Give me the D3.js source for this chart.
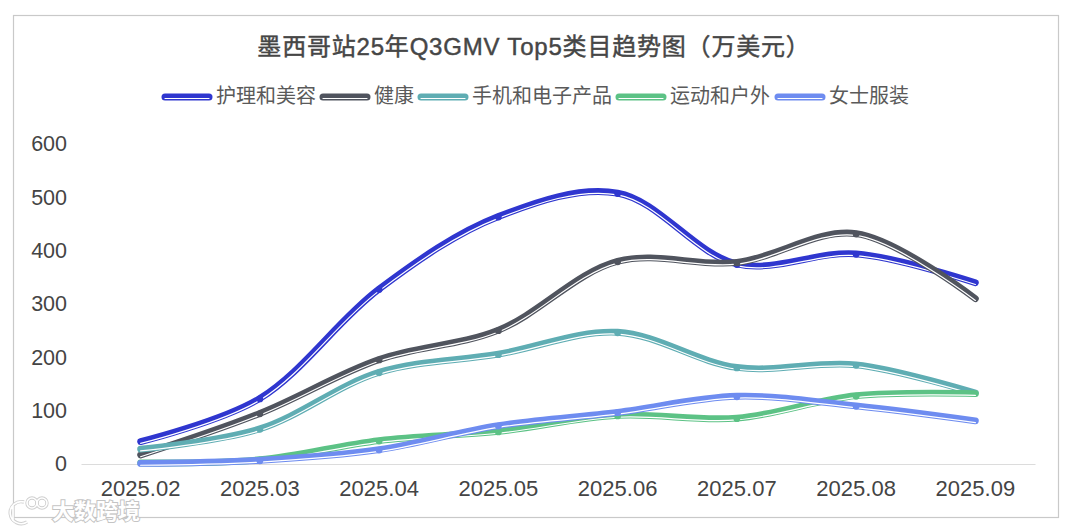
<!DOCTYPE html>
<html>
<head>
<meta charset="utf-8">
<script src="https://cdn.jsdelivr.net/npm/d3@7"></script>
<style>
  html, body { margin: 0; padding: 0; background: #fff; }
  svg { display: block; }
  text { font-family: "Liberation Sans", "Noto Sans CJK SC", sans-serif; }
</style>
</head>
<body>
<div class="chart"></div>
<script>
const months = ["2025.02", "2025.03", "2025.04", "2025.05", "2025.06", "2025.07", "2025.08", "2025.09"];
const names = ["护理和美容", "健康", "手机和电子产品", "运动和户外", "女士服装"];
const colors = ["#2f36cf", "#50545e", "#5fadb3", "#5cc285", "#6e8cf0"];
const beauty = [42, 123, 328, 464, 508, 375, 394, 340];
const health = [17, 95, 196, 251, 380, 378, 432, 310];
const phones = [28, 66, 172, 206, 247, 181, 186, 133];
const sports = [2, 8, 44, 61, 91, 86, 128, 132];
const women = [1, 7, 27, 72, 97, 127, 109, 81];
const seriesValues = [beauty, health, phones, sports, women];
const yTicks = [0, 100, 200, 300, 400, 500, 600];
const legendX = [162, 320, 418, 616, 775];

const width = 1080,
  height = 531;

const svg = d3
  .select(".chart")
  .append("svg")
  .attr("width", width)
  .attr("height", height);

svg
  .append("rect")
  .attr("x", 13.5)
  .attr("y", 15.5)
  .attr("width", 1045)
  .attr("height", 502)
  .attr("fill", "#fff")
  .attr("stroke", "#c9c9c9")
  .attr("stroke-width", 1.2);

svg
  .append("text")
  .attr("x", 534)
  .attr("y", 55)
  .attr("text-anchor", "middle")
  .attr("font-size", 24)
  .attr("letter-spacing", 0.8)
  .attr("fill", "#464646")
  .attr("stroke", "#464646")
  .attr("stroke-width", 0.45)
  .text("墨西哥站25年Q3GMV Top5类目趋势图（万美元）");

const xScale = d3.scaleBand().domain(months).range([81, 1035]);
const yScale = d3.scaleLinear().domain([0, 600]).range([464, 144]);
const xPos = (m) => xScale(m) + xScale.bandwidth() / 2;

const xAxis = d3.axisBottom(xScale).tickSize(0).tickPadding(16);
const yAxis = d3.axisLeft(yScale).tickValues(yTicks).tickSize(0).tickPadding(14);

const gx = svg.append("g").attr("transform", "translate(0, 464)").call(xAxis);
gx.select(".domain").attr("stroke", "#dcdcdc").attr("stroke-width", 1.2);
gx.selectAll("text").attr("font-size", 22).attr("fill", "#444").style("font-family", "'Liberation Sans'");

const gy = svg.append("g").attr("transform", "translate(81, 0)").call(yAxis);
gy.select(".domain").remove();
gy.selectAll("text").attr("font-size", 21.5).attr("fill", "#444").style("font-family", "'Liberation Sans'");

const line = d3
  .line()
  .x((d, i) => xPos(months[i]))
  .y((d) => yScale(d))
  .curve(d3.curveCatmullRom.alpha(0.5));

seriesValues.forEach((values, s) => {
  const g = svg.append("g");
  g.append("path")
    .attr("d", line(values))
    .attr("fill", "none")
    .attr("stroke", colors[s])
    .attr("stroke-width", 6.8)
    .attr("stroke-linecap", "round");
  // thin light line running along the lower edge of the thick stroke
  g.append("path")
    .attr("d", line(values))
    .attr("fill", "none")
    .attr("stroke", "#fff")
    .attr("stroke-width", 1.2)
    .attr("stroke-linecap", "round")
    .attr("transform", "translate(0, 1.8)");
  g.selectAll("circle")
    .data(values.slice(1, -1))
    .enter()
    .append("circle")
    .attr("cx", (d, i) => xPos(months[i + 1]))
    .attr("cy", (d) => yScale(d) + 0.5)
    .attr("r", 3.4)
    .attr("fill", colors[s]);
});

const legend = svg.append("g");
names.forEach((name, i) => {
  legend
    .append("line")
    .attr("x1", legendX[i] + 3)
    .attr("x2", legendX[i] + 47)
    .attr("y1", 97)
    .attr("y2", 97)
    .attr("stroke", colors[i])
    .attr("stroke-width", 7)
    .attr("stroke-linecap", "round");
  legend
    .append("line")
    .attr("x1", legendX[i] + 3)
    .attr("x2", legendX[i] + 47)
    .attr("y1", 98.5)
    .attr("y2", 98.5)
    .attr("stroke", "#fff")
    .attr("stroke-width", 1.2)
    .attr("stroke-linecap", "round");
  legend
    .append("text")
    .attr("x", legendX[i] + 54)
    .attr("y", 103)
    .attr("font-size", 20)
    .attr("fill", "#5a5a5a")
    .text(name);
});

// watermark in the lower left corner
const mark = svg.append("g").attr("fill", "none");
const markStyles = [["#cfcfcf", 3.4], ["#fff", 1.6]];
markStyles.forEach(([c, w]) => {
  const g = mark.append("g").attr("stroke", c).attr("stroke-width", w);
  g.append("path").attr("d", "M13 505 L13 521 M24 502 A11 11 0 1 0 27 522");
  g.append("circle").attr("cx", 32).attr("cy", 503).attr("r", 5);
  g.append("circle").attr("cx", 42).attr("cy", 503).attr("r", 5);
});
svg
  .append("text")
  .attr("x", 52)
  .attr("y", 519)
  .attr("font-size", 22)
  .attr("font-weight", 700)
  .attr("fill", "#fff")
  .attr("stroke", "#c4c4c4")
  .attr("stroke-width", 2)
  .attr("paint-order", "stroke")
  .text("大数跨境");
</script>
</body>
</html>
